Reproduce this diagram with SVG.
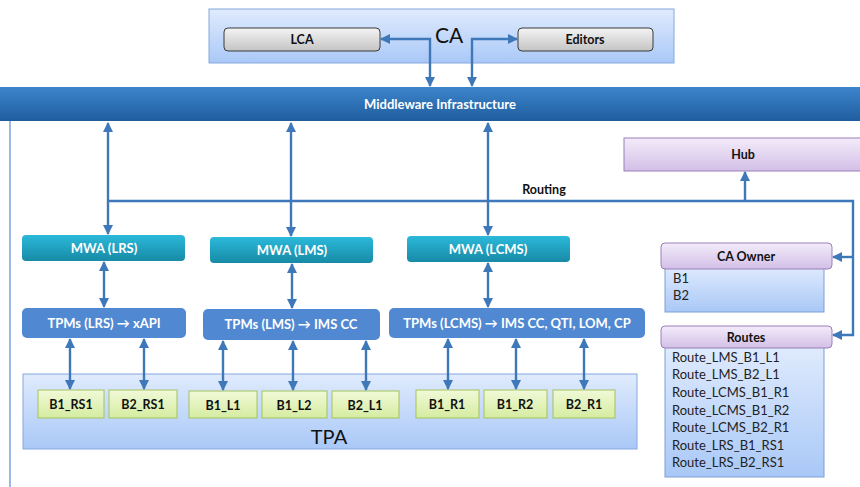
<svg xmlns="http://www.w3.org/2000/svg" width="860" height="487" viewBox="0 0 860 487">
<defs>
<linearGradient id="gCA" x1="0" y1="0" x2="0" y2="1"><stop offset="0" stop-color="#e0ebfd"/><stop offset="1" stop-color="#a9c8f7"/></linearGradient>
<linearGradient id="gGray" x1="0" y1="0" x2="0" y2="1"><stop offset="0" stop-color="#f4f4f4"/><stop offset="1" stop-color="#c4c4c4"/></linearGradient>
<linearGradient id="gMW" x1="0" y1="0" x2="0" y2="1"><stop offset="0" stop-color="#3d85cc"/><stop offset="1" stop-color="#1f5d9e"/></linearGradient>
<linearGradient id="gMWA" x1="0" y1="0" x2="0" y2="1"><stop offset="0" stop-color="#2bb9da"/><stop offset="1" stop-color="#178aa6"/></linearGradient>
<linearGradient id="gHub" x1="0" y1="0" x2="0" y2="1"><stop offset="0" stop-color="#f3ecfa"/><stop offset="1" stop-color="#d3bfe7"/></linearGradient>
<linearGradient id="gGreen" x1="0" y1="0" x2="0" y2="1"><stop offset="0" stop-color="#f1f9d8"/><stop offset="1" stop-color="#d5eca0"/></linearGradient>
<marker id="ah" viewBox="0 0 10 10" refX="9" refY="5" markerWidth="10" markerHeight="10" markerUnits="userSpaceOnUse" orient="auto-start-reverse"><path d="M0,0 L10,5 L0,10 z" fill="#3f78b8"/></marker>
</defs>
<style>
text{font-family:Lato,"Open Sans","Liberation Sans",sans-serif;}
.b{font-weight:bold;}
.ca{fill:url(#gCA);stroke:#86a8dc;stroke-width:1;}
.gray{fill:url(#gGray);stroke:#3a3a3a;stroke-width:1;}
.mwa{fill:url(#gMWA);}
.tpm{fill:#5089d2;}
.hub{fill:url(#gHub);stroke:#9a80b8;stroke-width:1;}
.grn{fill:url(#gGreen);stroke:#a2c35c;stroke-width:1;}
.list{fill:url(#gCA);stroke:#7d9fd4;stroke-width:1;}
.wt{fill:#ffffff;font-size:13px;font-weight:bold;text-anchor:middle;}
.bt{fill:#111;font-size:12.5px;font-weight:bold;text-anchor:middle;}
.it{fill:#222;font-size:13px;}
.c{fill:none;stroke:#3f78b8;stroke-width:2.4;}
.d{marker-start:url(#ah);marker-end:url(#ah);}
.e{marker-end:url(#ah);}
</style>

<g id="frame"><line x1="10" y1="120" x2="10" y2="487" stroke="#9bb9e2" stroke-width="2"/></g>

<g id="ca"><rect class="ca" x="209" y="9" width="465" height="54"/><text x="449" y="43" font-size="21" text-anchor="middle" fill="#111">CA</text></g>
<g id="lca"><rect class="gray" x="224" y="28" width="156" height="23" rx="4"/><text class="bt" x="302" y="44">LCA</text></g>
<g id="editors"><rect class="gray" x="518" y="28" width="135" height="23" rx="4"/><text class="bt" x="585" y="44">Editors</text></g>

<g id="middleware"><rect x="0" y="87" width="860" height="34" fill="url(#gMW)"/><text class="wt" x="440" y="109" font-size="12.5">Middleware Infrastructure</text></g>

<g id="hub"><rect class="hub" x="624" y="138" width="240" height="33"/><text class="bt" x="743" y="159">Hub</text></g>
<text class="b" x="544" y="194" font-size="12.5" text-anchor="middle" fill="#111">Routing</text>

<g id="mwa-lrs"><rect class="mwa" x="22" y="235" width="163" height="26" rx="4"/><text class="wt" x="104" y="253">MWA (LRS)</text></g>
<g id="mwa-lms"><rect class="mwa" x="210" y="237" width="163" height="26" rx="4"/><text class="wt" x="292" y="255">MWA (LMS)</text></g>
<g id="mwa-lcms"><rect class="mwa" x="407" y="236" width="163" height="26" rx="4"/><text class="wt" x="488" y="254">MWA (LCMS)</text></g>

<g id="tpm-lrs"><rect class="tpm" x="22" y="308" width="164" height="30" rx="5"/><text class="wt" x="104" y="328">TPMs (LRS) → xAPI</text></g>
<g id="tpm-lms"><rect class="tpm" x="203" y="309" width="177" height="31" rx="5"/><text class="wt" x="291" y="329">TPMs (LMS) → IMS CC</text></g>
<g id="tpm-lcms"><rect class="tpm" x="389" y="308" width="256" height="30" rx="5"/><text class="wt" x="517" y="328">TPMs (LCMS) → IMS CC, QTI, LOM, CP</text></g>

<g id="tpa"><rect class="ca" x="23" y="374" width="614" height="75"/><text x="329" y="444" font-size="20" text-anchor="middle" fill="#111">TPA</text></g>
<g id="b1rs1"><rect class="grn" x="38" y="390" width="66" height="28"/><text class="bt" x="71" y="409">B1_RS1</text></g>
<g id="b2rs1"><rect class="grn" x="109" y="390" width="68" height="28"/><text class="bt" x="143" y="409">B2_RS1</text></g>
<g id="b1l1"><rect class="grn" x="189" y="391" width="68" height="27"/><text class="bt" x="223" y="410">B1_L1</text></g>
<g id="b1l2"><rect class="grn" x="262" y="391" width="65" height="27"/><text class="bt" x="294" y="410">B1_L2</text></g>
<g id="b2l1"><rect class="grn" x="332" y="391" width="67" height="27"/><text class="bt" x="365" y="410">B2_L1</text></g>
<g id="b1r1"><rect class="grn" x="416" y="390" width="63" height="28"/><text class="bt" x="447" y="409">B1_R1</text></g>
<g id="b1r2"><rect class="grn" x="484" y="390" width="63" height="28"/><text class="bt" x="515" y="409">B1_R2</text></g>
<g id="b2r1"><rect class="grn" x="553" y="390" width="62" height="28"/><text class="bt" x="584" y="409">B2_R1</text></g>

<g id="caowner"><rect class="list" x="665" y="266" width="159" height="46"/><rect class="hub" x="661" y="243" width="171" height="26" rx="4"/><text class="bt" x="746" y="261">CA Owner</text><text class="it" x="673" y="283">B1</text><text class="it" x="673" y="300">B2</text></g>

<g id="routes"><rect class="list" x="665" y="345" width="159" height="132"/><rect class="hub" x="661" y="326" width="171" height="22" rx="4"/><text class="bt" x="746" y="342">Routes</text>
<text class="it" x="672" y="362">Route_LMS_B1_L1</text>
<text class="it" x="672" y="379">Route_LMS_B2_L1</text>
<text class="it" x="672" y="397">Route_LCMS_B1_R1</text>
<text class="it" x="672" y="415">Route_LCMS_B1_R2</text>
<text class="it" x="672" y="432">Route_LCMS_B2_R1</text>
<text class="it" x="672" y="450">Route_LRS_B1_RS1</text>
<text class="it" x="672" y="467">Route_LRS_B2_RS1</text></g>

<g id="connectors">
<path class="c d" d="M430,86 V39 H381"/>
<path class="c d" d="M472,86 V39 H517"/>
<path class="c d" d="M108,123 V234"/>
<path class="c d" d="M291,123 V236"/>
<path class="c d" d="M488,123 V235"/>
<path class="c e" d="M108,201 H853 V335 H833"/>
<path class="c e" d="M745,201 V172"/>
<path class="c e" d="M853,257 H833"/>
<path class="c d" d="M104,262 V307"/>
<path class="c d" d="M292,264 V308"/>
<path class="c d" d="M488,263 V307"/>
<path class="c d" d="M70,339 V389"/>
<path class="c d" d="M144,339 V389"/>
<path class="c d" d="M223,341 V390"/>
<path class="c d" d="M293,341 V390"/>
<path class="c d" d="M366,341 V390"/>
<path class="c d" d="M448,339 V389"/>
<path class="c d" d="M516,339 V389"/>
<path class="c d" d="M584,339 V389"/>
</g>
</svg>
